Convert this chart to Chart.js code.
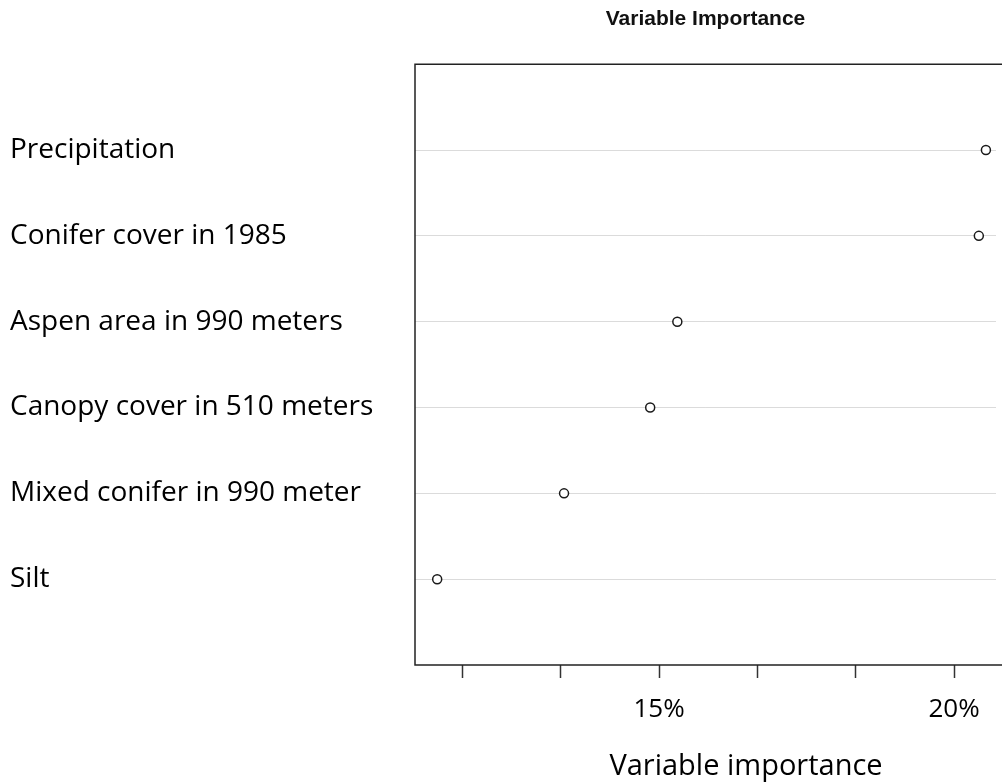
<!DOCTYPE html>
<html>
<head>
<meta charset="utf-8">
<title>Variable Importance</title>
<script src="https://cdn.jsdelivr.net/npm/chart.js@4/dist/chart.umd.min.js"></script>
<style>
  html, body { margin: 0; padding: 0; background: #fff; overflow: hidden; }
  #wrap { width: 1002px; height: 782px; }
</style>
</head>
<body>
<div id="wrap"><canvas id="chart" width="1002" height="782"></canvas></div>
<script>
const categories = [
  'Precipitation',
  'Conifer cover in 1985',
  'Aspen area in 990 meters',
  'Canopy cover in 510 meters',
  'Mixed conifer in 990 meter',
  'Silt'
];
const importance = [20.54, 20.42, 15.31, 14.85, 13.39, 11.24];
const xTickValues = [11.67, 13.33, 15, 16.67, 18.33, 20];
const xTickLabels = ['', '', '15%', '', '', '20%'];

const labelFont = "'Open Sans', 'Noto Sans', sans-serif";

// open-ended box (left, top, bottom) round the plot, plus the x axis caption
const framePlugin = {
  id: 'frame',
  afterDraw(chart) {
    const { ctx, chartArea, width } = chart;
    const { left, top, bottom } = chartArea;
    ctx.save();
    ctx.strokeStyle = '#222';
    ctx.lineWidth = 1.5;
    ctx.beginPath();
    ctx.moveTo(width + 5, top);
    ctx.lineTo(left, top);
    ctx.lineTo(left, bottom);
    ctx.lineTo(width + 5, bottom);
    ctx.stroke();
    ctx.fillStyle = '#000';
    ctx.font = "29px " + labelFont;
    ctx.textAlign = 'center';
    ctx.textBaseline = 'alphabetic';
    ctx.fillText('Variable importance', left + 331, 775);
    ctx.restore();
  }
};

new Chart(document.getElementById('chart'), {
  type: 'scatter',
  data: {
    datasets: [{
      data: importance.map((v, i) => ({ x: v, y: i + 1 })),
      pointStyle: 'circle',
      pointRadius: 4.5,
      pointBorderWidth: 1.5,
      pointBorderColor: '#1a1a1a',
      pointBackgroundColor: '#fff',
      clip: false
    }]
  },
  options: {
    responsive: false,
    animation: false,
    devicePixelRatio: 1,
    layout: { padding: { left: 10, top: 0, right: 0, bottom: 0 } },
    plugins: {
      legend: { display: false },
      tooltip: { enabled: false },
      title: {
        display: true,
        text: 'Variable Importance',
        fullSize: false,
        color: '#111',
        font: { family: "'Liberation Sans', Arial, sans-serif", size: 21, weight: 'bold' },
        padding: { top: 7, bottom: 32 }
      }
    },
    scales: {
      x: {
        type: 'linear',
        min: 10.864,
        max: 20.711,
        afterBuildTicks: (scale) => { scale.ticks = xTickValues.map(v => ({ value: v })); },
        afterFit: (scale) => { scale.height = 117; },
        border: { display: false },
        grid: {
          drawOnChartArea: false,
          drawTicks: true,
          tickLength: 13,
          tickColor: '#333',
          tickWidth: 1.5
        },
        ticks: {
          autoSkip: false,
          maxRotation: 0,
          padding: 16,
          color: '#000',
          font: { family: labelFont, size: 26 },
          callback: (v, i) => xTickLabels[i]
        }
      },
      y: {
        type: 'linear',
        min: 0,
        max: 7,
        reverse: true,
        afterBuildTicks: (scale) => { scale.ticks = categories.map((_, i) => ({ value: i + 1 })); },
        afterFit: (scale) => { scale.width = 405; },
        border: { display: false },
        grid: {
          drawTicks: false,
          color: 'rgba(0,0,0,0.14)',
          lineWidth: 1,
          borderDash: [4, 3]
        },
        ticks: {
          crossAlign: 'far',
          padding: 0,
          color: '#000',
          font: { family: labelFont, size: 28 },
          callback: (v) => categories[v - 1]
        }
      }
    }
  },
  plugins: [framePlugin]
});
</script>
</body>
</html>
